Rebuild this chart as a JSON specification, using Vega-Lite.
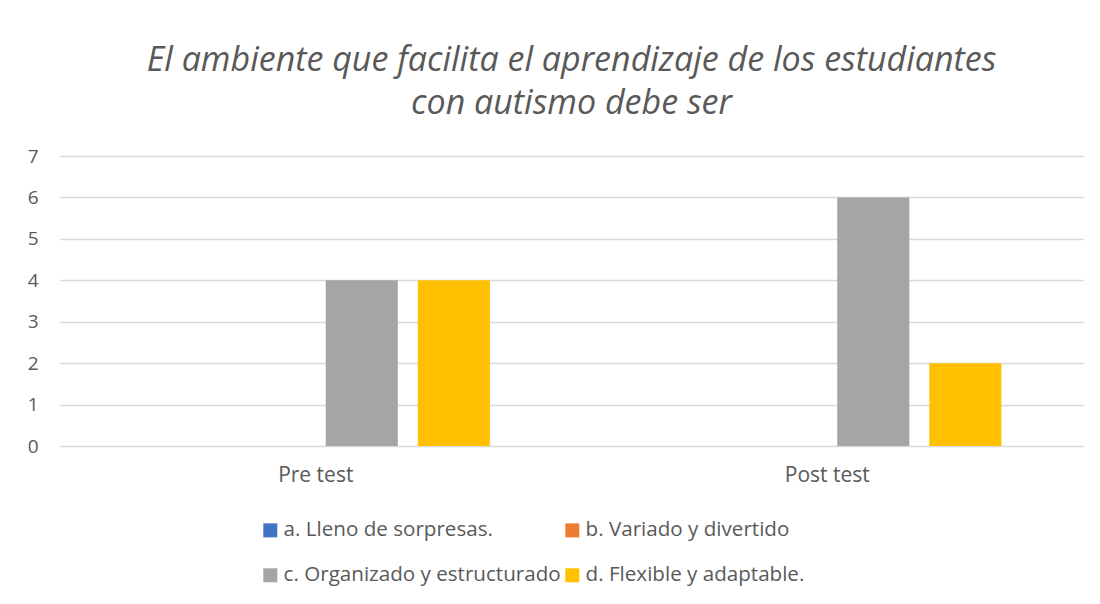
{
  "$schema": "https://vega.github.io/schema/vega-lite/v6.json",
  "autosize": "none",
  "width": 1023,
  "height": 290,
  "padding": {"left": 60, "top": 156, "right": 17, "bottom": 158},
  "background": "white",
  "title": {
    "text": ["El ambiente que facilita el aprendizaje de los estudiantes", "con autismo debe ser"],
    "font": "Open Sans",
    "fontSize": 34,
    "fontStyle": "italic",
    "fontWeight": "normal",
    "color": "#595959",
    "lineHeight": 43,
    "anchor": "middle",
    "offset": 26
  },
  "data": {
    "values": [
      {"grupo": "Pre test", "serie": "a. Lleno de sorpresas.", "valor": 0},
      {"grupo": "Pre test", "serie": "b. Variado y divertido", "valor": 0},
      {"grupo": "Pre test", "serie": "c. Organizado y estructurado", "valor": 4},
      {"grupo": "Pre test", "serie": "d. Flexible y adaptable.", "valor": 4},
      {"grupo": "Post test", "serie": "a. Lleno de sorpresas.", "valor": 0},
      {"grupo": "Post test", "serie": "b. Variado y divertido", "valor": 0},
      {"grupo": "Post test", "serie": "c. Organizado y estructurado", "valor": 6},
      {"grupo": "Post test", "serie": "d. Flexible y adaptable.", "valor": 2}
    ]
  },
  "mark": {"type": "bar"},
  "encoding": {
    "x": {
      "field": "grupo",
      "type": "nominal",
      "sort": ["Pre test", "Post test"],
      "scale": {"paddingInner": 0.28, "paddingOuter": 0.14},
      "axis": {
        "title": null,
        "labelAngle": 0,
        "domain": false,
        "ticks": false,
        "labelPadding": 18,
        "labelFont": "Open Sans",
        "labelFontSize": 21,
        "labelColor": "#595959"
      }
    },
    "xOffset": {
      "field": "serie",
      "type": "nominal",
      "scale": {"paddingInner": 0.217, "paddingOuter": 0.1087}
    },
    "y": {
      "field": "valor",
      "type": "quantitative",
      "scale": {"domain": [0, 7], "nice": false},
      "axis": {
        "title": null,
        "values": [0, 1, 2, 3, 4, 5, 6, 7],
        "domain": false,
        "ticks": false,
        "labelPadding": 22,
        "labelFont": "Open Sans",
        "labelFontSize": 19,
        "labelColor": "#595959",
        "gridColor": "#D9D9D9",
        "gridWidth": 1.3
      }
    },
    "color": {
      "field": "serie",
      "type": "nominal",
      "scale": {
        "domain": ["a. Lleno de sorpresas.", "b. Variado y divertido", "c. Organizado y estructurado", "d. Flexible y adaptable."],
        "range": ["#4472C4", "#ED7D31", "#A5A5A5", "#FFC000"]
      },
      "legend": {
        "title": null,
        "orient": "none",
        "direction": "horizontal",
        "legendX": 200,
        "legendY": 364,
        "columns": 2,
        "columnPadding": 1,
        "rowPadding": 24,
        "symbolType": "square",
        "symbolSize": 196,
        "symbolStrokeWidth": 0,
        "labelFont": "Open Sans",
        "labelFontSize": 20.6,
        "labelColor": "#595959",
        "labelOffset": 3,
        "labelLimit": 0
      }
    }
  },
  "config": {"view": {"stroke": null}}
}
